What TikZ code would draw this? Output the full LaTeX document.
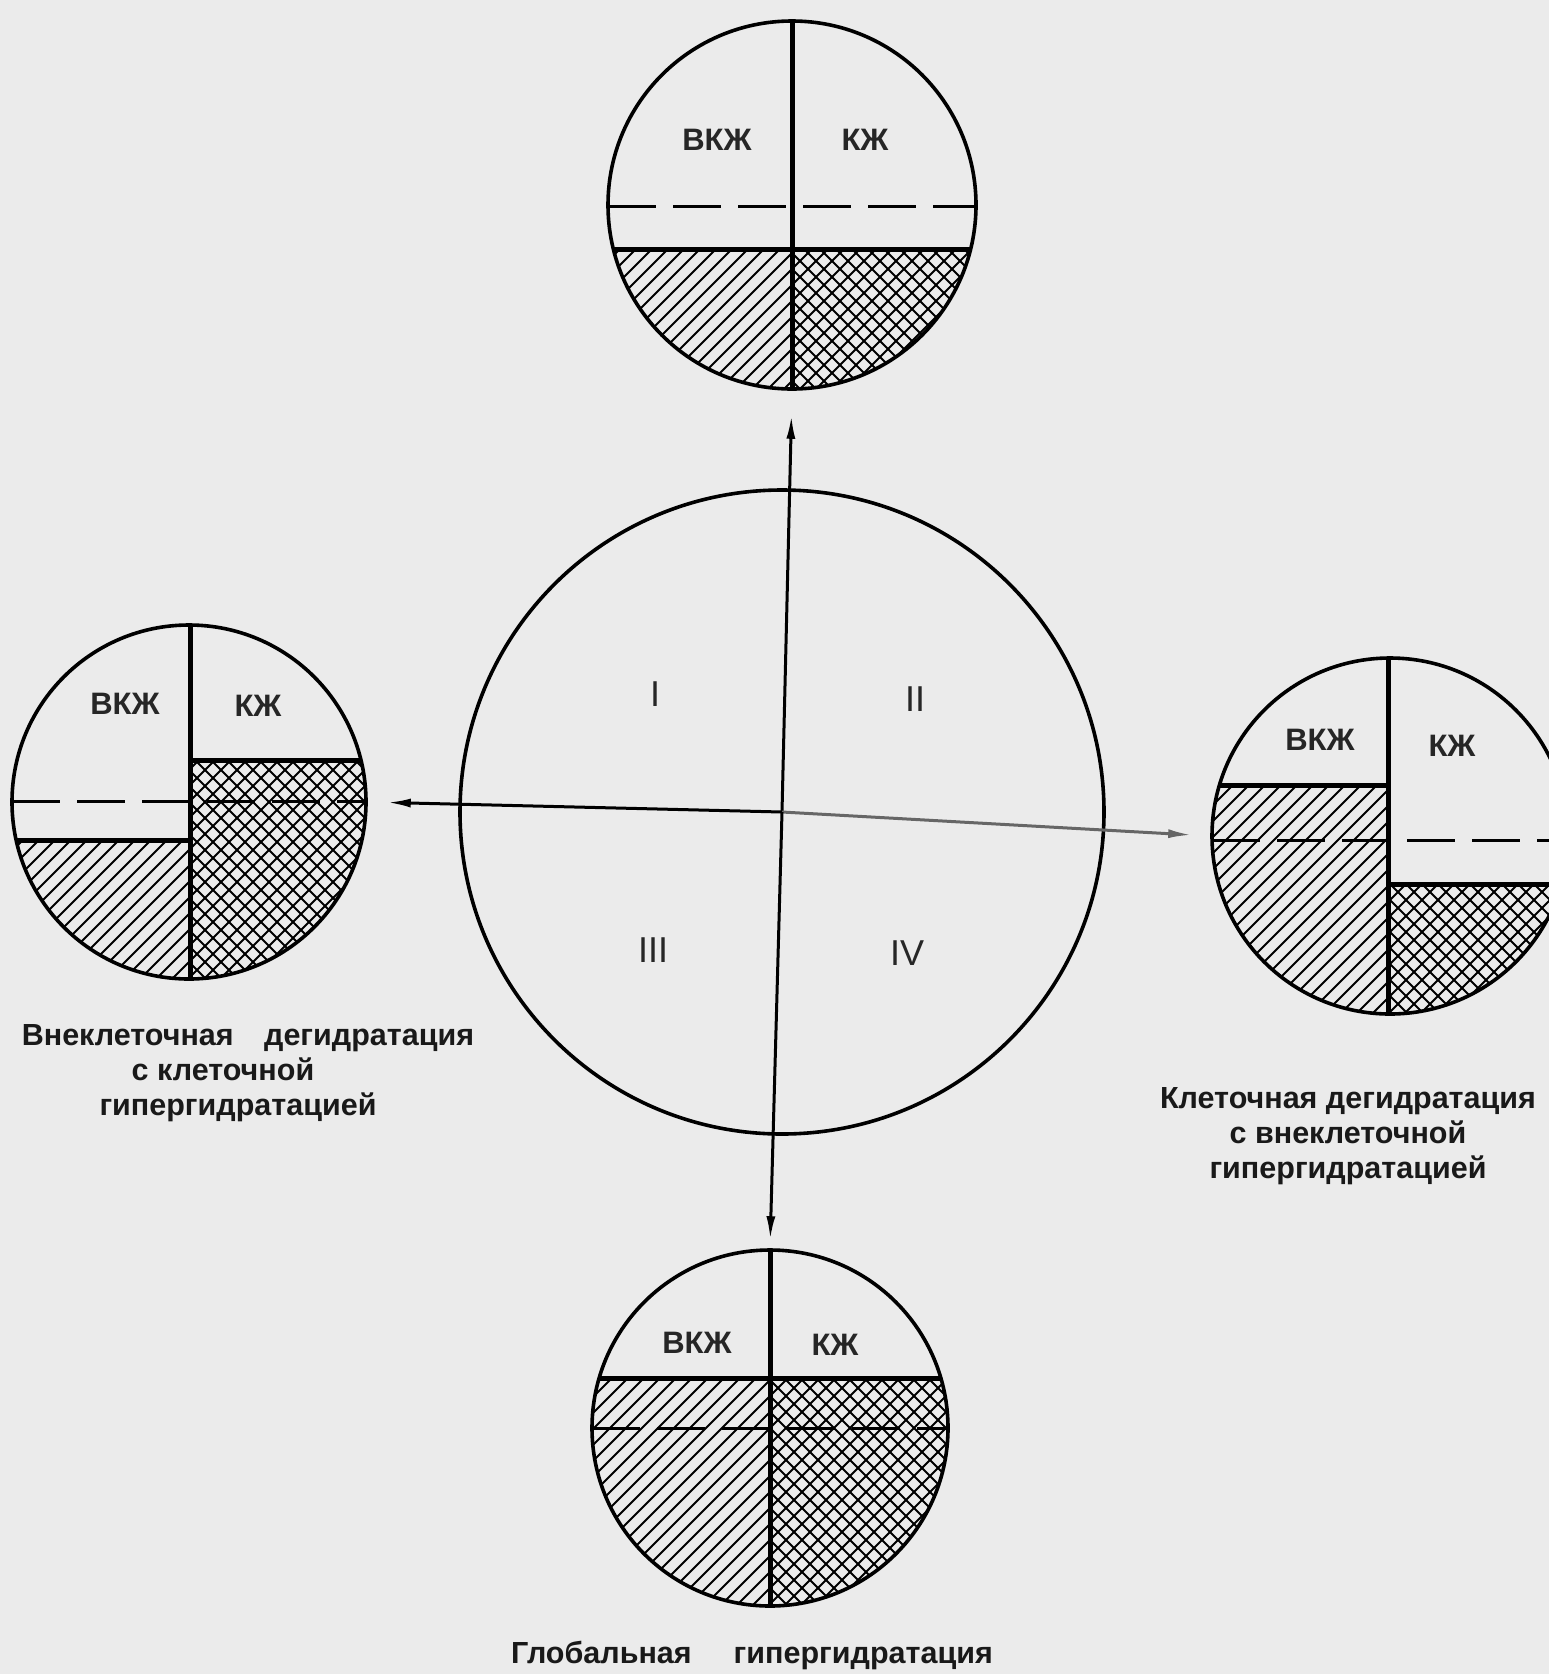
\documentclass[tikz,border=0pt]{standalone}
\usepackage{fontspec}
\setmainfont{Liberation Sans}
\usetikzlibrary{arrows.meta, positioning}

% one small circle: centre x, centre y, radius, divider x,
% left level, right level, dashed level
\newcommand{\fluidcell}[7]{%
    \begin{scope}
        \clip (#1,#2) circle (#3pt);
        % hatched part (left)
        \begin{scope}
            \clip (#1-#3,#5) rectangle (#4,#2+#3);
            \foreach \i in {-384,-368,...,384}
                \draw[hatch] ({#1+\i-#3},{#2+#3}) -- ++({2*#3},{-2*#3});
        \end{scope}
        % cross-hatched part (right)
        \begin{scope}
            \clip (#4,#6) rectangle (#1+#3,#2+#3);
            \foreach \i in {-384,-368,...,384} {
                \draw[hatch] ({#1+\i-#3},{#2+#3}) -- ++({2*#3},{-2*#3});
                \draw[hatch] ({#1+\i-#3},{#2-#3}) -- ++({2*#3},{2*#3});
            }
        \end{scope}
        \draw[waterline] (#1-#3,#7) -- (#1+#3,#7);
        \draw[divider] (#1-#3,#5) -- (#4,#5);
        \draw[divider] (#4,#6) -- (#1+#3,#6);
        \draw[divider] (#4,#2-#3) -- (#4,#2+#3);
    \end{scope}
}

\begin{document}
\begin{tikzpicture}[
        x=1pt, y=-1pt,
        cell/.style={
            circle, draw=black, line width=3.6pt, inner sep=0pt
        },
        hatch/.style={line width=1.9pt},
        divider/.style={line width=5pt},
        waterline/.style={line width=3pt, dash pattern=on 48pt off 17pt},
        lbl/.style={text=black!85, font=\fontsize{31}{31}\selectfont\bfseries},
        numeral/.style={text=black!85, font=\fontsize{36}{36}\selectfont},
        capText/.style={
            align=center, text=black!90,
            font=\fontsize{30.5}{35}\selectfont\bfseries
        },
        arrow/.style={
            line width=3pt, -{Latex[length=24pt, width=9pt]}
        }
    ]
        \useasboundingbox (0,0) rectangle (1549,1674);
        \fill[black!8] (0,0) rectangle (1549,1674);

        % Fillings of the small circles
        \fluidcell{792}{205}{184}{792}{249}{249}{206}
        \fluidcell{189}{802}{177}{190}{840}{760}{801}
        \fluidcell{1390}{836}{178}{1388}{785}{884}{840}
        \fluidcell{770}{1428}{178}{770}{1378}{1378}{1428}

        % Circles
        \node (cen) [cell, minimum size=644pt] at (782,812) {};
        \node (topc) [cell, minimum size=368pt] at (792,205) {};
        \node (leftc) [cell, minimum size=354pt] at (189,802) {};
        \node (rightc) [cell, minimum size=356pt] at (1390,836) {};
        \node (botc) [cell, minimum size=356pt] at (770,1428) {};

        % Labels
        \node (topV) [lbl] at (717,140) {ВКЖ};
        \node (topK) [lbl] at (865,140) {КЖ};
        \node (leftV) [lbl] at (125,704) {ВКЖ};
        \node (leftK) [lbl] at (258,706) {КЖ};
        \node (rightV) [lbl] at (1320,740) {ВКЖ};
        \node (rightK) [lbl] at (1452,746) {КЖ};
        \node (botV) [lbl] at (697,1343) {ВКЖ};
        \node (botK) [lbl] at (835,1345) {КЖ};

        \node (q1) [numeral] at (655,694) {I};
        \node (q2) [numeral] at (915,699) {II};
        \node (q3) [numeral] at (653,950) {III};
        \node (q4) [numeral] at (907,953) {IV};

        \node (capL) [capText] at (248,1073) {Внеклеточная\quad дегидратация\\\mbox{с клеточной\hspace{50pt}}\\\mbox{гипергидратацией\hspace{20pt}}};
        \node (capR) [capText] at (1348,1136) {Клеточная дегидратация\\с внеклеточной\\гипергидратацией};
        \node (capB) [capText] at (752,1655) {Глобальная\hspace{42pt}гипергидратация};

        % Connectors
        \draw [arrow, shorten >=24pt] (cen.center) -- (topc.south);
        \draw [arrow, shorten >=19pt] (cen.center) -- (leftc.east);
        \draw [arrow, draw=black!60, shorten >=18pt] (cen.center) -- (rightc.west);
        \draw [arrow, shorten >=8pt] (cen.center) -- (botc.north);
    \end{tikzpicture}
\end{document}
